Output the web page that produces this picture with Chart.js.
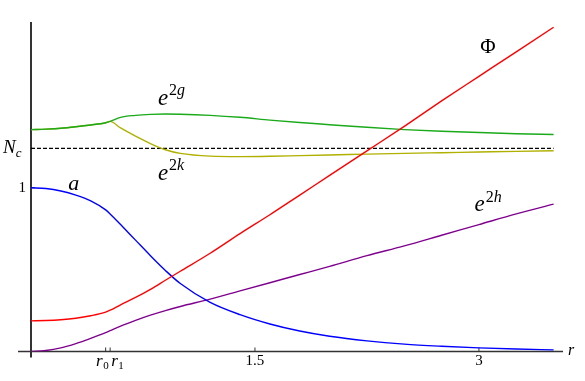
<!DOCTYPE html>
<html>
<head>
<meta charset="utf-8">
<script src="https://cdn.jsdelivr.net/npm/chart.js@4"></script>
<style>
  html, body { margin: 0; padding: 0; background: #fff; }
  #chart { display: block; }
</style>
</head>
<body>
<canvas id="chart" width="585" height="381"></canvas>
<script>
// radial coordinate samples
const rVals = [0, 0.1, 0.2, 0.3, 0.4, 0.5, 0.53, 0.6, 0.7, 0.8, 0.9, 1.0, 1.2, 1.4, 1.6, 1.8, 2.0, 2.25, 2.5, 2.75, 3.0, 3.25, 3.5];

const phiVals = [0.187, 0.189, 0.194, 0.203, 0.218, 0.240, 0.252, 0.285, 0.33, 0.38, 0.435, 0.49, 0.60, 0.72, 0.835, 0.955, 1.075, 1.225, 1.375, 1.53, 1.68, 1.83, 1.98];
const aVals = [1.0, 0.995, 0.98, 0.955, 0.92, 0.865, 0.84, 0.775, 0.68, 0.585, 0.495, 0.415, 0.3, 0.225, 0.168, 0.125, 0.093, 0.065, 0.045, 0.032, 0.022, 0.015, 0.01];
const e2hVals = [0, 0.006, 0.022, 0.048, 0.08, 0.115, 0.127, 0.155, 0.19, 0.222, 0.25, 0.275, 0.32, 0.37, 0.42, 0.47, 0.52, 0.585, 0.645, 0.71, 0.775, 0.84, 0.90];
const e2gVals = [1.355, 1.358, 1.363, 1.372, 1.383, 1.397, 1.405, 1.43, 1.442, 1.448, 1.45, 1.449, 1.442, 1.43, 1.413, 1.398, 1.385, 1.369, 1.355, 1.345, 1.337, 1.33, 1.325];
const e2kVals = [1.355, 1.358, 1.363, 1.372, 1.383, 1.397, 1.405, 1.365, 1.315, 1.27, 1.232, 1.21, 1.193, 1.19, 1.192, 1.196, 1.2, 1.205, 1.21, 1.214, 1.218, 1.222, 1.226];

const Nc = 1.24;
const r0 = 0.5, r1 = 0.53;
const xTicks = [r0, r1, 1.5, 3];
const yTicks = [1, Nc];

const pts = (ys) => rVals.map((x, i) => ({ x, y: ys[i] }));

const serif = '"Liberation Serif", "DejaVu Serif", serif';

function drawMath(ctx, base, sup, x, y, size) {
  ctx.font = `italic ${size}px ${serif}`;
  ctx.textBaseline = "alphabetic";
  ctx.textAlign = "left";
  ctx.fillText(base, x, y);
  if (sup) {
    const w = ctx.measureText(base).width;
    let cx = x + w + 1;
    for (const ch of sup) {
      ctx.font = (/[0-9]/.test(ch) ? "" : "italic ") + `${Math.round(size * 0.68)}px ${serif}`;
      ctx.fillText(ch, cx, y - size * 0.42);
      cx += ctx.measureText(ch).width;
    }
  }
}

const axesPlugin = {
  id: "axes",
  beforeDatasetsDraw(chart) {
    const { ctx, scales } = chart;
    const xs = scales.x, ys = scales.y;
    const x0 = xs.getPixelForValue(0);
    const y0 = ys.getPixelForValue(0);
    ctx.save();
    ctx.strokeStyle = "#333";
    ctx.lineWidth = 1.6;
    ctx.beginPath();
    ctx.moveTo(18, y0);
    ctx.lineTo(xs.right, y0);
    ctx.stroke();
    ctx.lineWidth = 2;
    ctx.beginPath();
    ctx.moveTo(x0, ys.top);
    ctx.lineTo(x0, y0 + 6);
    ctx.stroke();
    ctx.lineWidth = 1;
    xTicks.forEach((t) => {
      const px = xs.getPixelForValue(t);
      ctx.beginPath();
      ctx.moveTo(px, y0);
      ctx.lineTo(px, y0 - 4);
      ctx.stroke();
    });
    yTicks.forEach((t) => {
      const py = ys.getPixelForValue(t);
      ctx.beginPath();
      ctx.moveTo(x0, py);
      ctx.lineTo(x0 + 4, py);
      ctx.stroke();
    });
    ctx.restore();
  },
  afterDraw(chart) {
    const { ctx, scales } = chart;
    const xs = scales.x, ys = scales.y;
    const y0 = ys.getPixelForValue(0);
    ctx.save();
    ctx.fillStyle = "#000";
    // x tick labels
    ctx.textBaseline = "top";
    ctx.textAlign = "center";
    ctx.font = `15px ${serif}`;
    ctx.fillText("1.5", xs.getPixelForValue(1.5), y0 + 2);
    ctx.fillText("3", xs.getPixelForValue(3), y0 + 2);
    ctx.textBaseline = "alphabetic";
    // r0
    let px = xs.getPixelForValue(r0) + 3;
    ctx.textAlign = "right";
    ctx.font = `11px ${serif}`;
    ctx.fillText("0", px, y0 + 17);
    const sw = ctx.measureText("0").width;
    ctx.font = `italic 17px ${serif}`;
    ctx.fillText("r", px - sw - 0.5, y0 + 14);
    // r1
    px = xs.getPixelForValue(r1) + 1;
    ctx.textAlign = "left";
    ctx.fillText("r", px, y0 + 14);
    const rw = ctx.measureText("r").width;
    ctx.font = `11px ${serif}`;
    ctx.fillText("1", px + rw + 0.5, y0 + 17);
    // axis name
    ctx.textBaseline = "middle";
    ctx.font = `italic 16px ${serif}`;
    ctx.fillText("r", xs.right + 5, y0 - 1);
    // y tick labels
    ctx.textAlign = "right";
    ctx.font = `15px ${serif}`;
    ctx.fillText("1", xs.left - 5, ys.getPixelForValue(1));
    ctx.textAlign = "left";
    ctx.textBaseline = "alphabetic";
    ctx.font = `italic 19px ${serif}`;
    const ny = ys.getPixelForValue(Nc) + 5;
    ctx.fillText("N", 3, ny);
    const nw = ctx.measureText("N").width;
    ctx.font = `italic 13px ${serif}`;
    ctx.fillText("c", 3 + nw, ny + 4);
    // curve labels
    ctx.font = `21px ${serif}`;
    ctx.textAlign = "center";
    ctx.fillText("\u03A6", xs.getPixelForValue(3.06), ys.getPixelForValue(1.82));
    drawMath(ctx, "e", "2g", xs.getPixelForValue(0.85), ys.getPixelForValue(1.505), 23);
    drawMath(ctx, "e", "2k", xs.getPixelForValue(0.85), ys.getPixelForValue(1.05), 23);
    drawMath(ctx, "e", "2h", xs.getPixelForValue(2.97), ys.getPixelForValue(0.855), 23);
    drawMath(ctx, "a", "", xs.getPixelForValue(0.25), ys.getPixelForValue(0.985), 22);
    ctx.restore();
  },
};

const line = (label, ys, color) => ({
  label,
  data: pts(ys),
  borderColor: color,
  borderWidth: 1.4,
  pointRadius: 0,
  cubicInterpolationMode: "monotone",
  fill: false,
});

// first dataset is drawn on top
new Chart(document.getElementById("chart"), {
  type: "line",
  data: {
    datasets: [
      line("Phi", phiVals, "#ff0000"),
      line("a", aVals, "#0000ff"),
      line("e2h", e2hVals, "#800090"),
      line("e2g", e2gVals, "#1aaa1a"),
      line("e2k", e2kVals, "#b0b000"),
      {
        label: "Nc",
        data: [{ x: 0, y: Nc }, { x: 3.5, y: Nc }],
        borderColor: "#000",
        borderWidth: 1.2,
        borderDash: [4, 2],
        pointRadius: 0,
      },
    ],
  },
  options: {
    responsive: false,
    animation: false,
    events: [],
    layout: { padding: { left: 31, right: 22, top: 22, bottom: 29.5 } },
    plugins: { legend: { display: false }, tooltip: { enabled: false } },
    scales: {
      x: { type: "linear", min: 0, max: 3.563, display: false },
      y: { min: 0, max: 2.012, display: false },
    },
  },
  plugins: [axesPlugin],
});
</script>
</body>
</html>
